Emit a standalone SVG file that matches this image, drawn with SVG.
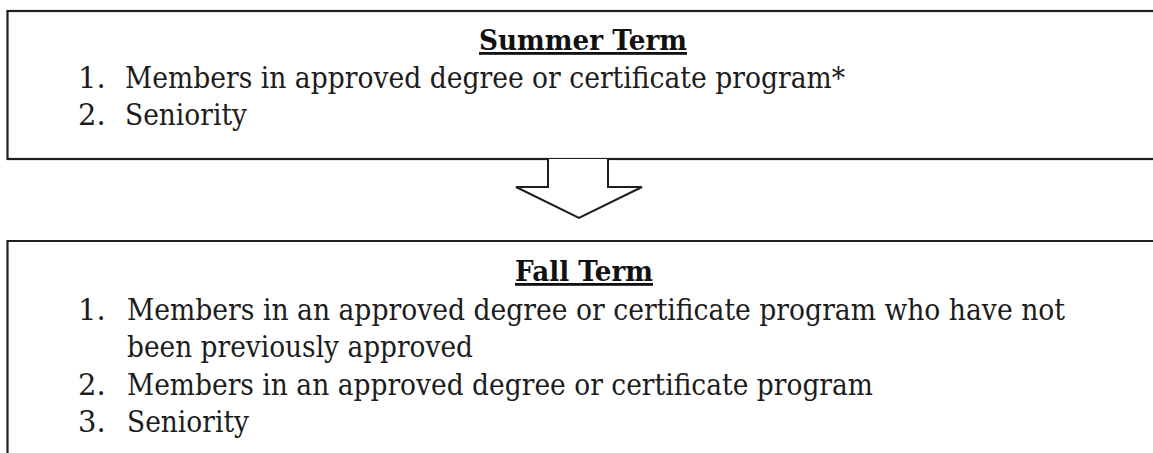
<svg xmlns="http://www.w3.org/2000/svg" width="1153" height="453" viewBox="0 0 1153 453">
<style>
.box{fill:#fff;stroke:#1e1e1e;stroke-width:2.2}
.t{font-family:"DejaVu Serif","Liberation Serif",serif;font-size:29px;fill:#1c1c1c}
.h{font-family:"DejaVu Serif","Liberation Serif",serif;font-size:28px;font-weight:bold;fill:#111;text-decoration:underline}
.arrow{fill:#fff;stroke:#1e1e1e;stroke-width:2}
</style>
<rect width="1153" height="453" fill="#fff"/>
<g id="summer">
<rect class="box" x="7.5" y="11" width="1150" height="148"/>
<text class="h" x="583" y="50" text-anchor="middle" textLength="208" lengthAdjust="spacingAndGlyphs">Summer Term</text>
<text class="t" x="78" y="88">1.</text>
<text class="t" x="125" y="88" textLength="720" lengthAdjust="spacingAndGlyphs">Members in approved degree or certificate program*</text>
<text class="t" x="78" y="125">2.</text>
<text class="t" x="125" y="125" textLength="122" lengthAdjust="spacingAndGlyphs">Seniority</text>
</g>
<g id="connectors">
<path class="arrow" d="M548,159 V187 H516 L579,218 L642,187 H608 V159"/>
</g>
<g id="fall">
<path class="box" d="M7.5,460 V241 H1160"/>
<text class="h" x="584" y="281" text-anchor="middle" textLength="138" lengthAdjust="spacingAndGlyphs">Fall Term</text>
<text class="t" x="78" y="320">1.</text>
<text class="t" x="127" y="320" textLength="938" lengthAdjust="spacingAndGlyphs">Members in an approved degree or certificate program who have not</text>
<text class="t" x="127" y="357" textLength="346" lengthAdjust="spacingAndGlyphs">been previously approved</text>
<text class="t" x="78" y="395">2.</text>
<text class="t" x="127" y="395" textLength="746" lengthAdjust="spacingAndGlyphs">Members in an approved degree or certificate program</text>
<text class="t" x="78" y="432">3.</text>
<text class="t" x="127" y="432" textLength="122" lengthAdjust="spacingAndGlyphs">Seniority</text>
</g>
</svg>
